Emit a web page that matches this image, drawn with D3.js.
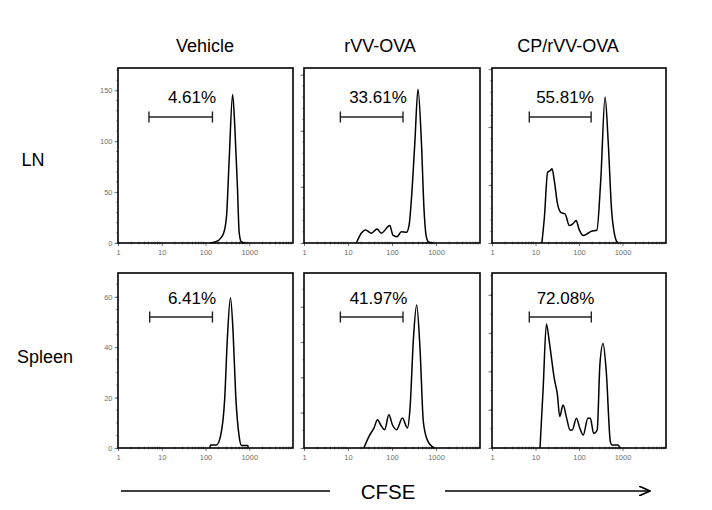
<!DOCTYPE html>
<html>
<head>
<meta charset="utf-8">
<script src="https://cdn.jsdelivr.net/npm/d3@7"></script>
<style>
  html, body { margin: 0; padding: 0; background: #fff; }
  svg { display: block; font-family: "Liberation Sans", Arial, sans-serif; }
</style>
</head>
<body>
<svg id="chart" width="712" height="510"></svg>
<script>
// ---------------- DATA ----------------
const columnTitles = ["Vehicle", "rVV-OVA", "CP/rVV-OVA"];
const rowTitles = ["LN", "Spleen"];
const xTickValues = [1, 10, 100, 1000];
const xTickLabels = ["1", "10", "100", "1000"];
const xDomain = [1, 10000];

// CFSE intensity (x) and cell count (y) for each histogram
const lnVehicleX = [126, 166, 204, 257, 302, 347, 417, 468, 537, 589, 661, 794];
const lnVehicleY = [0, 1, 3, 9, 26, 81, 146, 114, 55, 10, 1, 0];

const lnOvaX = [15.5, 20, 25, 34, 46, 57, 89, 105, 130, 163, 212, 245, 275, 330, 390, 467, 535, 603, 690, 850];
const lnOvaY = [0, 8.7, 11.6, 8.7, 12.5, 8.7, 15.5, 7, 5.6, 10, 9.5, 16, 38, 89, 137, 89, 29.5, 5.6, 0.6, 0];

const lnCpOvaX = [14, 16, 19, 22, 24, 27, 32, 38, 48, 60, 72, 86, 100, 126, 155, 190, 257, 316, 398, 468, 562, 676, 776];
const lnCpOvaY = [0, 22, 61, 62.5, 64, 54, 34, 26.5, 25, 15, 16.5, 19.4, 12, 6.5, 8, 10, 11, 54, 126, 88, 28, 5, 0];

const spVehicleX = [126, 130, 178, 219, 275, 316, 372, 427, 490, 589, 661, 933, 950];
const spVehicleY = [0, 1.2, 1.2, 4.5, 19.7, 43.5, 59.7, 46, 21, 4.5, 1, 1, 0];

const spOvaX = [23, 30, 39, 47, 55, 68, 85, 102, 128, 172, 224, 257, 307, 363, 434, 515, 633, 824, 933];
const spOvaY = [0, 3.3, 5.7, 8, 6.6, 5.2, 9.4, 6.6, 5.2, 8.5, 5.7, 11.3, 31, 40.5, 28, 7.5, 2.3, 0.4, 0];

const spCpOvaX = [12.7, 15, 17.8, 21, 27, 32, 36, 43, 52, 62, 70, 87, 105, 125, 160, 182, 218, 262, 302, 357, 424, 527, 575, 794, 871];
const spCpOvaY = [0, 15.6, 32.4, 27.3, 18.2, 13.8, 8.2, 11.2, 7.8, 4.7, 4.7, 7.8, 5.1, 3.4, 7.8, 7.8, 3.8, 4.7, 21.7, 27.3, 19.9, 1.6, 0.8, 0.8, 0];

// y-axis maxima and tick steps (counts)
const yMaxima = [172, 156, 151, 69.5, 49.6, 45.7];
const yMajorSteps = [50, 50, 50, 20, 10, 10];
const yMinorSteps = [10, 10, 10, 5, 5, 5];
const yLabelled = [true, false, false, true, false, false];

// gate markers (CFSE range) and percentages
const gateRanges = [[5.1, 144], [6.7, 178], [7.2, 190], [5.3, 144], [6.7, 178], [7.2, 192]];
const gateLabels = ["4.61%", "33.61%", "55.81%", "6.41%", "41.97%", "72.08%"];

const axisLabel = "CFSE";

// ---------------- LAYOUT ----------------
const colX = [[118, 293], [304, 480], [492, 666]];
const rowY = [[68, 243], [273, 448]];
const labelCenters = [192, 378, 565, 192, 378.5, 565.5];

const seriesX = [lnVehicleX, lnOvaX, lnCpOvaX, spVehicleX, spOvaX, spCpOvaX];
const seriesY = [lnVehicleY, lnOvaY, lnCpOvaY, spVehicleY, spOvaY, spCpOvaY];

const svg = d3.select("#chart");

for (let r = 0; r < 2; r++) {
  for (let c = 0; c < 3; c++) {
    const i = r * 3 + c;
    const [x0, x1] = colX[c];
    const [y0, y1] = rowY[r];
    const x = d3.scaleLog().domain(xDomain).range([x0, x1]);
    const y = d3.scaleLinear().domain([0, yMaxima[i]]).range([y1, y0]);
    const g = svg.append("g");

    // minor x ticks (log)
    const minor = [];
    for (let d = 1; d < 10000; d *= 10) for (let k = 2; k <= 9; k++) minor.push(d * k);
    g.selectAll(".xminor").data(minor).join("line")
      .attr("x1", d => x(d)).attr("x2", d => x(d))
      .attr("y1", y1 - 1.5).attr("y2", y1 + 1.5)
      .attr("stroke", "#777").attr("stroke-width", 0.8);

    // major x ticks and labels
    const xAxis = d3.axisBottom(x).tickValues(xTickValues)
      .tickFormat((d, k) => xTickLabels[k]).tickSize(3).tickPadding(4);
    const xa = g.append("g").attr("transform", `translate(0,${y1})`).call(xAxis);
    xa.select(".domain").remove();
    xa.selectAll("line").attr("stroke", "#777");
    xa.selectAll("text").attr("fill", "#6e6e6e").attr("font-size", 7.5)
      .attr("font-family", "'Liberation Sans', Arial, sans-serif");

    // minor y ticks
    const yMinor = d3.range(0, yMaxima[i] + 0.001, yMinorSteps[i]);
    g.selectAll(".yminor").data(yMinor).join("line")
      .attr("x1", x0 - 2).attr("x2", x0)
      .attr("y1", d => y(d)).attr("y2", d => y(d))
      .attr("stroke", "#888").attr("stroke-width", 0.8);

    // major y ticks
    const yMajor = d3.range(0, yMaxima[i] + 0.001, yMajorSteps[i]);
    const yAxis = d3.axisLeft(y).tickValues(yMajor).tickSize(3.5).tickPadding(2)
      .tickFormat(d => yLabelled[i] ? d3.format("d")(d) : "");
    const ya = g.append("g").attr("transform", `translate(${x0},0)`).call(yAxis);
    ya.select(".domain").remove();
    ya.selectAll("line").attr("stroke", "#777");
    ya.selectAll("text").attr("fill", "#6e6e6e").attr("font-size", 7.5)
      .attr("font-family", "'Liberation Sans', Arial, sans-serif");

    // frame
    g.append("rect").attr("x", x0).attr("y", y0)
      .attr("width", x1 - x0).attr("height", y1 - y0)
      .attr("fill", "none").attr("stroke", "#000").attr("stroke-width", 1.6);

    // histogram curve
    const pts = seriesX[i].map((v, k) => [v, seriesY[i][k]]);
    const line = d3.line().x(d => x(d[0])).y(d => y(d[1])).curve(d3.curveMonotoneX);
    g.append("path").attr("d", line(pts))
      .attr("fill", "none").attr("stroke", "#000").attr("stroke-width", 1.5)
      .attr("stroke-linejoin", "round");

    // gate
    const gy = y0 + (r === 0 ? 49 : 44);
    const [ga, gb] = gateRanges[i];
    g.append("line").attr("x1", x(ga)).attr("x2", x(gb)).attr("y1", gy).attr("y2", gy)
      .attr("stroke", "#222").attr("stroke-width", 1.4);
    [ga, gb].forEach(v => {
      g.append("line").attr("x1", x(v)).attr("x2", x(v)).attr("y1", gy - 5.5).attr("y2", gy + 5.5)
        .attr("stroke", "#222").attr("stroke-width", 1.4);
    });
    g.append("text").attr("x", labelCenters[i]).attr("y", y0 + (r === 0 ? 34.5 : 30.5))
      .attr("text-anchor", "middle").attr("font-size", 17).attr("fill", "#000")
      .text(gateLabels[i]);
  }
}

// column titles
const titleCenters = [205, 380, 568];
svg.selectAll(".coltitle").data(columnTitles).join("text")
  .attr("x", (d, k) => titleCenters[k]).attr("y", 52)
  .attr("text-anchor", "middle").attr("font-size", 18).text(d => d);

// row titles
const rowCenters = [[33, 166], [45, 363]];
svg.selectAll(".rowtitle").data(rowTitles).join("text")
  .attr("x", (d, k) => rowCenters[k][0]).attr("y", (d, k) => rowCenters[k][1])
  .attr("text-anchor", "middle").attr("font-size", 18).text(d => d);

// CFSE arrow
svg.append("defs").append("marker").attr("id", "arrow")
  .attr("viewBox", "0 0 12 10").attr("refX", 11).attr("refY", 5)
  .attr("markerWidth", 12).attr("markerHeight", 10).attr("markerUnits", "userSpaceOnUse")
  .attr("orient", "auto")
  .append("path").attr("d", "M0,0 L11,5 L0,10").attr("fill", "none")
  .attr("stroke", "#000").attr("stroke-width", 1.6);
svg.append("line").attr("x1", 121).attr("x2", 330).attr("y1", 491).attr("y2", 491)
  .attr("stroke", "#000").attr("stroke-width", 1.6);
svg.append("line").attr("x1", 445).attr("x2", 650).attr("y1", 491).attr("y2", 491)
  .attr("stroke", "#000").attr("stroke-width", 1.6).attr("marker-end", "url(#arrow)");
svg.append("text").attr("x", 388).attr("y", 498.5).attr("text-anchor", "middle")
  .attr("font-size", 20.5).text(axisLabel);
</script>
</body>
</html>
